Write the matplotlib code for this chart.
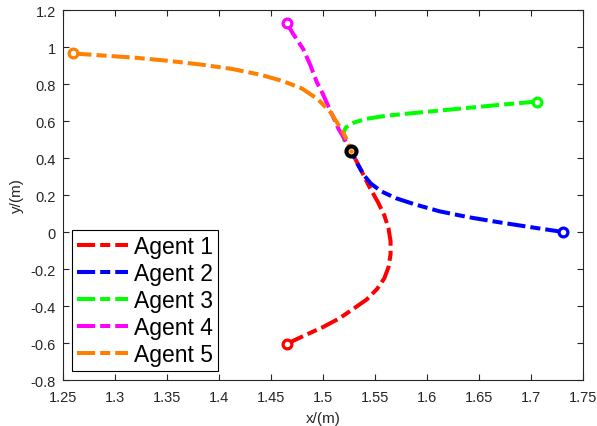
import matplotlib
matplotlib.use("Agg")
import matplotlib.pyplot as plt
from matplotlib.lines import Line2D

labels = ["Agent 1", "Agent 2", "Agent 3", "Agent 4", "Agent 5"]
colors = ["#ff0000", "#0000ff", "#00ff00", "#ff00ff", "#ff8000"]

# trajectories, from start point to the meeting point
a1_x = [1.465, 1.482, 1.500, 1.516, 1.529, 1.542, 1.552, 1.559, 1.563, 1.565, 1.565, 1.563, 1.559, 1.553, 1.545, 1.537, 1.527]
a1_y = [-0.605, -0.56, -0.514, -0.466, -0.416, -0.365, -0.308, -0.25, -0.19, -0.12, -0.05, 0.02, 0.09, 0.16, 0.24, 0.33, 0.44]
a2_x = [1.731, 1.700, 1.670, 1.640, 1.612, 1.588, 1.570, 1.556, 1.546, 1.539, 1.533, 1.527]
a2_y = [0.0, 0.026, 0.052, 0.080, 0.112, 0.150, 0.183, 0.220, 0.262, 0.310, 0.370, 0.44]
a3_x = [1.706, 1.675, 1.645, 1.615, 1.585, 1.560, 1.542, 1.530, 1.522, 1.519, 1.521, 1.527]
a3_y = [0.705, 0.690, 0.674, 0.658, 0.642, 0.628, 0.612, 0.592, 0.565, 0.530, 0.485, 0.44]
a4_x = [1.465, 1.472, 1.481, 1.488, 1.494, 1.500, 1.505, 1.510, 1.515, 1.521, 1.527]
a4_y = [1.130, 1.065, 0.989, 0.900, 0.811, 0.745, 0.681, 0.620, 0.557, 0.500, 0.44]
a5_x = [1.260, 1.286, 1.320, 1.350, 1.383, 1.413, 1.440, 1.462, 1.480, 1.495, 1.507, 1.516, 1.522, 1.527]
a5_y = [0.965, 0.955, 0.942, 0.926, 0.905, 0.881, 0.850, 0.815, 0.775, 0.718, 0.649, 0.570, 0.510, 0.44]
meet_x = [1.527]
meet_y = [0.44]

xs = [a1_x, a2_x, a3_x, a4_x, a5_x]
ys = [a1_y, a2_y, a3_y, a4_y, a5_y]

xticks = [1.25, 1.3, 1.35, 1.4, 1.45, 1.5, 1.55, 1.6, 1.65, 1.7, 1.75]
xticklabels = ["1.25", "1.3", "1.35", "1.4", "1.45", "1.5", "1.55", "1.6", "1.65", "1.7", "1.75"]
yticks = [-0.8, -0.6, -0.4, -0.2, 0, 0.2, 0.4, 0.6, 0.8, 1, 1.2]
yticklabels = ["-0.8", "-0.6", "-0.4", "-0.2", "0", "0.2", "0.4", "0.6", "0.8", "1", "1.2"]

plt.rcParams['font.family'] = ['Liberation Sans', 'DejaVu Sans']
axcol = "#262626"

fig = plt.figure(figsize=(5.97, 4.27), dpi=100)
ax = fig.add_axes([0.1055, 0.1077, 0.871, 0.8665])

dash = (0, (4.5, 1.25, 2.5, 1.25))
lw = 2.9
for x, y, c in zip(xs, ys, colors):
    ax.plot(x, y, color=c, lw=lw, linestyle=dash, dash_capstyle='butt', solid_capstyle='butt')
for x, y, c in zip(xs, ys, colors):
    ax.plot([x[0]], [y[0]], marker='o', ms=6.3, mfc='white', mec=c, mew=2.3, linestyle='none')
ax.plot(meet_x, meet_y, marker='o', ms=7.2, mfc='white', mec='black', mew=3.0, linestyle='none')
ax.plot(meet_x, meet_y, marker='o', ms=2.2, mfc='#ff8000', mec='#ff8000', linestyle='none')

ax.set_xlim(1.25, 1.75)
ax.set_ylim(-0.8, 1.2)
ax.set_xticks(xticks)
ax.set_xticklabels(xticklabels)
ax.set_yticks(yticks)
ax.set_yticklabels(yticklabels)
ax.tick_params(direction='in', top=True, right=True, length=4, width=0.8, colors=axcol, labelsize=10.5, labelcolor=axcol)
ax.tick_params(axis='x', pad=7)
ax.tick_params(axis='y', pad=5)
for s in ax.spines.values():
    s.set_color(axcol)
    s.set_linewidth(0.8)
ax.set_xlabel("x/(m)", fontsize=11, color=axcol, labelpad=5)
ax.set_ylabel("y/(m)", fontsize=11, color=axcol, labelpad=5)

handles = [Line2D([0], [0], color=c, lw=lw, linestyle=dash) for c in colors]
leg = ax.legend(handles, labels, loc='lower left', fontsize=16.5, frameon=True, fancybox=False,
                edgecolor='black', framealpha=1, handlelength=2.25, handletextpad=0.25,
                labelspacing=0.18, borderpad=0.2, borderaxespad=0.4)
leg.get_frame().set_linewidth(0.8)

fig.savefig("out.png", dpi=100, facecolor='white')
